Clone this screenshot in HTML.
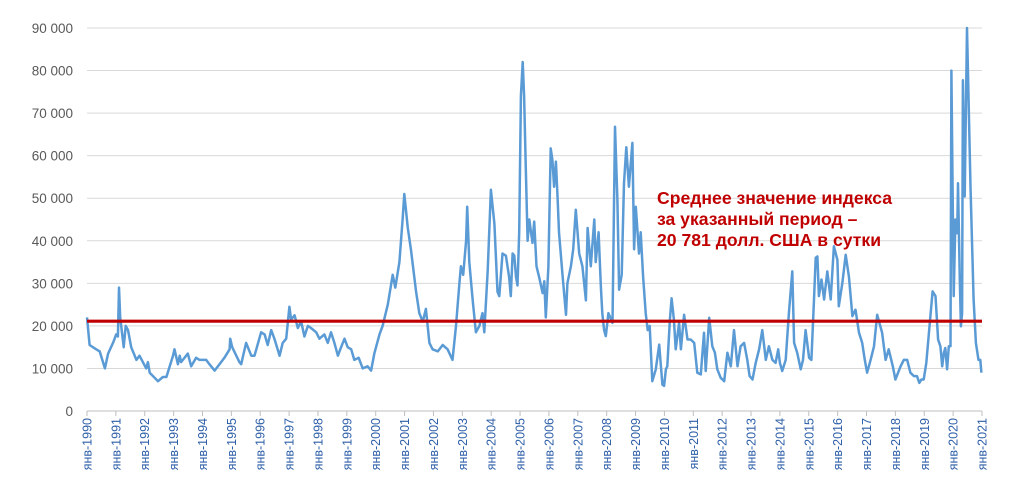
<!DOCTYPE html>
<html><head><meta charset="utf-8">
<style>
body{margin:0;background:#fff;}
svg{display:block;font-family:"Liberation Sans",sans-serif;}
</style></head>
<body>
<svg id="chart" width="1021" height="491" viewBox="0 0 1021 491">
<g id="grid"></g>
<g id="yaxis"></g>
<g id="xaxis"></g>
<g id="series"></g>
<g id="avg"></g>
<text x="657" y="204" fill="#c00000" font-size="17.6" font-weight="bold">
<tspan x="657" y="204">Среднее значение индекса</tspan>
<tspan x="657" y="225">за указанный период –</tspan>
<tspan x="657" y="246">20 781 долл. США в сутки</tspan>
</text>
</svg>
<script>
const yTicks=[0,10000,20000,30000,40000,50000,60000,70000,80000,90000];
const yTickLabels=["0","10 000","20 000","30 000","40 000","50 000","60 000","70 000","80 000","90 000"];
const xYears=[1990,1991,1992,1993,1994,1995,1996,1997,1998,1999,2000,2001,2002,2003,2004,2005,2006,2007,2008,2009,2010,2011,2012,2013,2014,2015,2016,2017,2018,2019,2020,2021];
const averageValue=21100;
const tOffsets=[0,.09,.32,.44,.62,.73,.9,1.01,1.07,1.11,1.15,1.27,1.34,1.42,1.53,1.71,1.82,2.05,2.11,2.17,2.46,2.63,2.75,2.98,3.03,3.15,3.21,3.26,3.49,3.61,3.78,3.9,4.13,4.24,4.42,4.59,4.76,4.94,4.96,5.03,5.17,5.28,5.34,5.51,5.69,5.8,6.03,6.15,6.26,6.38,6.49,6.67,6.78,6.9,7.01,7.07,7.19,7.3,7.42,7.53,7.65,7.76,7.94,8.05,8.22,8.34,8.45,8.57,8.69,8.8,8.92,9.03,9.15,9.26,9.41,9.55,9.72,9.84,9.95,10.13,10.24,10.42,10.59,10.68,10.82,10.93,10.99,11.11,11.22,11.4,11.51,11.63,11.74,11.86,11.97,12.15,12.32,12.49,12.66,12.78,12.9,12.95,13.03,13.13,13.17,13.24,13.36,13.47,13.59,13.7,13.76,13.88,13.99,14.11,14.22,14.28,14.39,14.51,14.62,14.68,14.74,14.80,14.86,14.91,14.97,15.03,15.09,15.14,15.20,15.26,15.32,15.43,15.49,15.57,15.66,15.78,15.84,15.89,15.98,16.06,16.12,16.18,16.24,16.30,16.35,16.47,16.59,16.64,16.76,16.84,16.93,17.05,17.16,17.28,17.34,17.45,17.57,17.62,17.72,17.80,17.85,17.91,17.97,18.06,18.20,18.29,18.37,18.43,18.52,18.60,18.68,18.77,18.89,18.95,19.01,19.12,19.18,19.26,19.35,19.42,19.49,19.58,19.70,19.82,19.93,19.99,20.05,20.10,20.19,20.25,20.33,20.39,20.51,20.57,20.68,20.80,20.91,21.03,21.14,21.26,21.37,21.43,21.55,21.66,21.75,21.83,21.95,22.07,22.18,22.30,22.41,22.53,22.64,22.76,22.87,22.95,23.05,23.16,23.28,23.39,23.51,23.62,23.74,23.85,23.94,24.00,24.08,24.20,24.31,24.43,24.49,24.60,24.72,24.80,24.89,25.01,25.09,25.18,25.24,25.30,25.35,25.44,25.53,25.64,25.76,25.87,25.99,26.04,26.16,26.28,26.39,26.51,26.62,26.74,26.85,26.94,27.02,27.14,27.26,27.37,27.54,27.66,27.77,27.91,28.00,28.18,28.29,28.41,28.52,28.64,28.75,28.83,28.90,28.98,29.07,29.18,29.29,29.39,29.48,29.56,29.62,29.68,29.73,29.79,29.85,29.91,29.94,30.02,30.08,30.14,30.17,30.23,30.27,30.31,30.34,30.40,30.48,30.60,30.71,30.79,30.88,30.94,30.98];
const valuesK=[22,15.5,14.5,14,10,13.5,16,18,17.5,29,22,15,20,19,15,12,13,10,11.5,9,7,8,8,13,14.5,11,13,11.5,13.5,10.5,12.5,12,12,11,9.5,11,12.5,14.5,17,15,13,11.5,11,16,13,13,18.5,18,15.5,19,17,13,16,17,24.5,21.5,22.5,19.5,21,17.5,20,19.5,18.5,17,18,16,18.5,16,13,15,17,15,14.5,12,12.5,10,10.5,9.5,13.5,18,20,25,32,29,35,45,51,43,38,28,23,21,24,16,14.5,14,15.5,14.5,12,20,30,34,32,40,48,35,26,18.5,20,23,18.5,33,52,44,28,27,37,36.5,31.5,27,37,36.5,31.5,29.5,42,74,82,74,57,40,45,39.5,44.5,34,31.5,27.7,30.5,22,34,61.7,59,52.7,58.6,50,42,32,22.6,30,34,38,47.3,37,34,26,43,34,45,35,42,29,23,19,17.6,23,20.7,66.8,49.6,28.5,32,53.5,62,52.7,63,38,48,37,42,31.6,23,19,20,7,9.8,15.6,6.2,5.9,9.8,10.5,21.5,26.5,21.5,14.5,20.7,14.5,22.6,16.8,16.8,16,9,8.6,18.4,9.4,21.9,15.2,13.7,9.8,7.8,7,13.7,10.5,19,10.5,15.2,16,12,8.2,7.4,11.3,14.5,19,12,15.2,12,11.3,14.5,11.3,9.4,12,23,32.8,16,13.7,9.8,12,19,12.5,12,26.2,36,36.3,27,30.9,26.2,32.8,26.2,38.7,35.5,24.6,30,36.7,31.6,22.3,23.8,18.4,16,12,9,12,15.2,22.6,18.4,12,14.5,10.5,7.4,10.5,12,12,9,8.2,8.2,6.6,7.4,7.4,11.3,19.9,28.1,27,16.8,15.2,10.5,13.7,14.8,9.8,15.2,15.2,80,27,45,41.8,53.5,30.9,19.9,23,77.7,50.4,90,52.7,26.2,16,12,12,9,6.6,8.6,9.8,6.2];

const NS="http://www.w3.org/2000/svg";
const X0=87,X1=982,Y0=411,Y90=28;
const xScale=y=>X0+(y-1990)*(X1-X0)/31;
const yScale=v=>Y0-v*(Y0-Y90)/90000;
function mk(tag,attrs,parent){const e=document.createElementNS(NS,tag);for(const k in attrs)e.setAttribute(k,attrs[k]);parent.appendChild(e);return e;}
const grid=document.getElementById('grid'),ya=document.getElementById('yaxis'),xa=document.getElementById('xaxis');
yTicks.forEach((v,i)=>{
  if(v>0){const l=mk('line',{x1:X0,x2:X1,y1:yScale(v),y2:yScale(v),stroke:'#d9d9d9','stroke-width':1},grid);
  
  }
  const t=mk('text',{x:73,y:yScale(v)+5,'text-anchor':'end','font-size':13.5,fill:'#595959'},ya);
  t.textContent=yTickLabels[i];
  
  
});
const ax=mk('line',{x1:X0,x2:X1,y1:Y0,y2:Y0,stroke:'#bfbfbf','stroke-width':1},xa);


xYears.forEach(y=>{
  const x=xScale(y);
  const tk=mk('line',{x1:x,x2:x,y1:Y0,y2:Y0+5,stroke:'#bfbfbf'},xa);
  
  
  const t=mk('text',{transform:`translate(${x+4.5},418) rotate(-90)`,'text-anchor':'end','font-size':12.5,fill:'#2e5fa8'},xa);
  t.textContent='янв-'+y;
  
  
});
const pts=tOffsets.map((t,i)=>xScale(1990+t).toFixed(1)+','+yScale(valuesK[i]*1000).toFixed(1)).join(' ');
const pl=mk('polyline',{points:pts,fill:'none',stroke:'#5b9bd5','stroke-width':2.5,'stroke-linejoin':'round'},document.getElementById('series'));


const al=mk('line',{x1:X0,x2:X1,y1:yScale(averageValue),y2:yScale(averageValue),stroke:'#c00000','stroke-width':3.2},document.getElementById('avg'));


</script>
</body></html>
